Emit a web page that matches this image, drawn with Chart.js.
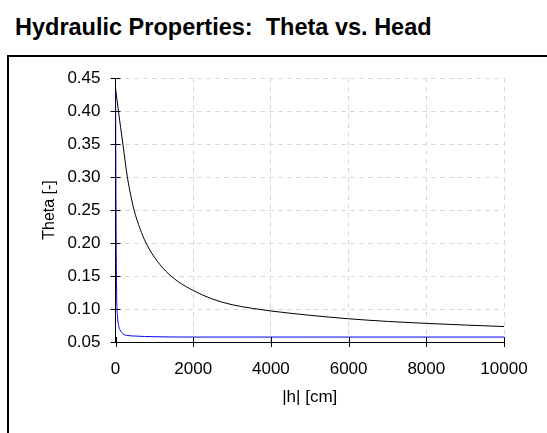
<!DOCTYPE html>
<html>
<head>
<meta charset="utf-8">
<script src="https://cdn.jsdelivr.net/npm/chart.js@4"></script>
<style>
  body { margin: 0; background: #fff; font-family: "Liberation Sans", Arial, sans-serif; }
  #title { position: absolute; left: 15px; top: 14px; font-weight: bold; font-size: 23.5px; white-space: pre; }
  #box { position: absolute; left: 7px; top: 55px; width: 560px; height: 400px; border: 2px solid #000; }
  #wrap { position: absolute; left: 0; top: 0; width: 547px; height: 433px; }
</style>
</head>
<body>
<div id="title">Hydraulic Properties:  Theta vs. Head</div>
<div id="box"></div>
<div id="wrap"><canvas id="chart"></canvas></div>
<script>
// values
const headBlack = [0, 75, 190, 305, 390, 477, 630, 786, 1000, 1300, 1600, 2000, 2500, 3000, 3500, 4000, 5000, 6000, 7000, 8000, 9000, 10000];
const thetaBlack = [0.435, 0.40, 0.35, 0.30, 0.273, 0.25, 0.222, 0.20, 0.1786, 0.157, 0.142, 0.128, 0.115, 0.1065, 0.1012, 0.097, 0.0905, 0.0852, 0.0812, 0.0782, 0.0757, 0.0734];
const headBlue = [0, 5, 10, 20, 30, 50, 80, 120, 200, 300, 500, 1000, 2000, 5000, 10000];
const thetaBlue = [0.43, 0.38, 0.30, 0.18, 0.12, 0.09, 0.075, 0.068, 0.062, 0.060, 0.059, 0.058, 0.0575, 0.0575, 0.0575];
const xTicks = [0, 2000, 4000, 6000, 8000, 10000];
const yTicks = [0.05, 0.10, 0.15, 0.20, 0.25, 0.30, 0.35, 0.40, 0.45];

const toPoints = (xs, ys) => xs.map((x, i) => ({ x: x, y: ys[i] }));

// small tick marks crossing the axes
const crossTicks = {
    id: 'crossTicks',
    afterDraw(chart) {
        const ctx = chart.ctx;
        const xs = chart.scales.x;
        const ys = chart.scales.y;
        const x0 = xs.getPixelForValue(0);
        const y0 = ys.getPixelForValue(0.05);
        ctx.save();
        ctx.strokeStyle = '#000';
        ctx.lineWidth = 1;
        ctx.beginPath();
        xTicks.forEach(v => {
            const px = Math.round(xs.getPixelForValue(v)) + 0.5;
            ctx.moveTo(px, y0 - 5);
            ctx.lineTo(px, y0 + 5);
        });
        yTicks.forEach(v => {
            const py = Math.round(ys.getPixelForValue(v)) + 0.5;
            ctx.moveTo(x0 - 5, py);
            ctx.lineTo(x0 + 5, py);
        });
        ctx.stroke();
        ctx.restore();
    }
};

const font = { family: 'Liberation Sans', size: 17 };

const ctx = document.getElementById('chart').getContext('2d');
new Chart(ctx, {
    type: 'scatter',
    data: {
        datasets: [
            {
                label: 'theta 1',
                data: toPoints(headBlack, thetaBlack),
                showLine: true,
                borderColor: '#000',
                borderWidth: 1,
                pointRadius: 0,
                cubicInterpolationMode: 'monotone'
            },
            {
                label: 'theta 2',
                data: toPoints(headBlue, thetaBlue),
                showLine: true,
                borderColor: '#0000ff',
                borderWidth: 1,
                pointRadius: 0,
                cubicInterpolationMode: 'monotone'
            }
        ]
    },
    options: {
        responsive: true,
        maintainAspectRatio: false,
        animation: false,
        layout: { padding: { left: 40, top: 78, right: 43, bottom: 25 } },
        plugins: {
            legend: { display: false },
            tooltip: { enabled: false }
        },
        scales: {
            x: {
                type: 'linear',
                min: 0,
                max: 10000,
                afterFit(scale) { scale.height = 66; },
                afterBuildTicks(scale) { scale.ticks = xTicks.map(v => ({ value: v })); },
                grid: { color: '#d9d9d9', drawTicks: false },
                border: { color: '#000', width: 1, dash: [5, 4] },
                ticks: { color: '#000', padding: 17, font: font, maxRotation: 0, callback: v => String(v) },
                title: { display: true, text: '|h| [cm]', color: '#000', font: font, padding: 0 }
            },
            y: {
                type: 'linear',
                min: 0.05,
                max: 0.45,
                afterFit(scale) { scale.width = 75.5; },
                afterBuildTicks(scale) { scale.ticks = yTicks.map(v => ({ value: v })); },
                grid: { color: '#d9d9d9', drawTicks: false },
                border: { color: '#000', width: 1, dash: [5, 4] },
                ticks: { color: '#000', padding: 15, font: font, callback: v => v.toFixed(2) },
                title: { display: true, text: 'Theta [-]', color: '#000', font: { family: 'Liberation Sans', size: 16 }, padding: 0 }
            }
        }
    },
    plugins: [crossTicks]
});
</script>
</body>
</html>
